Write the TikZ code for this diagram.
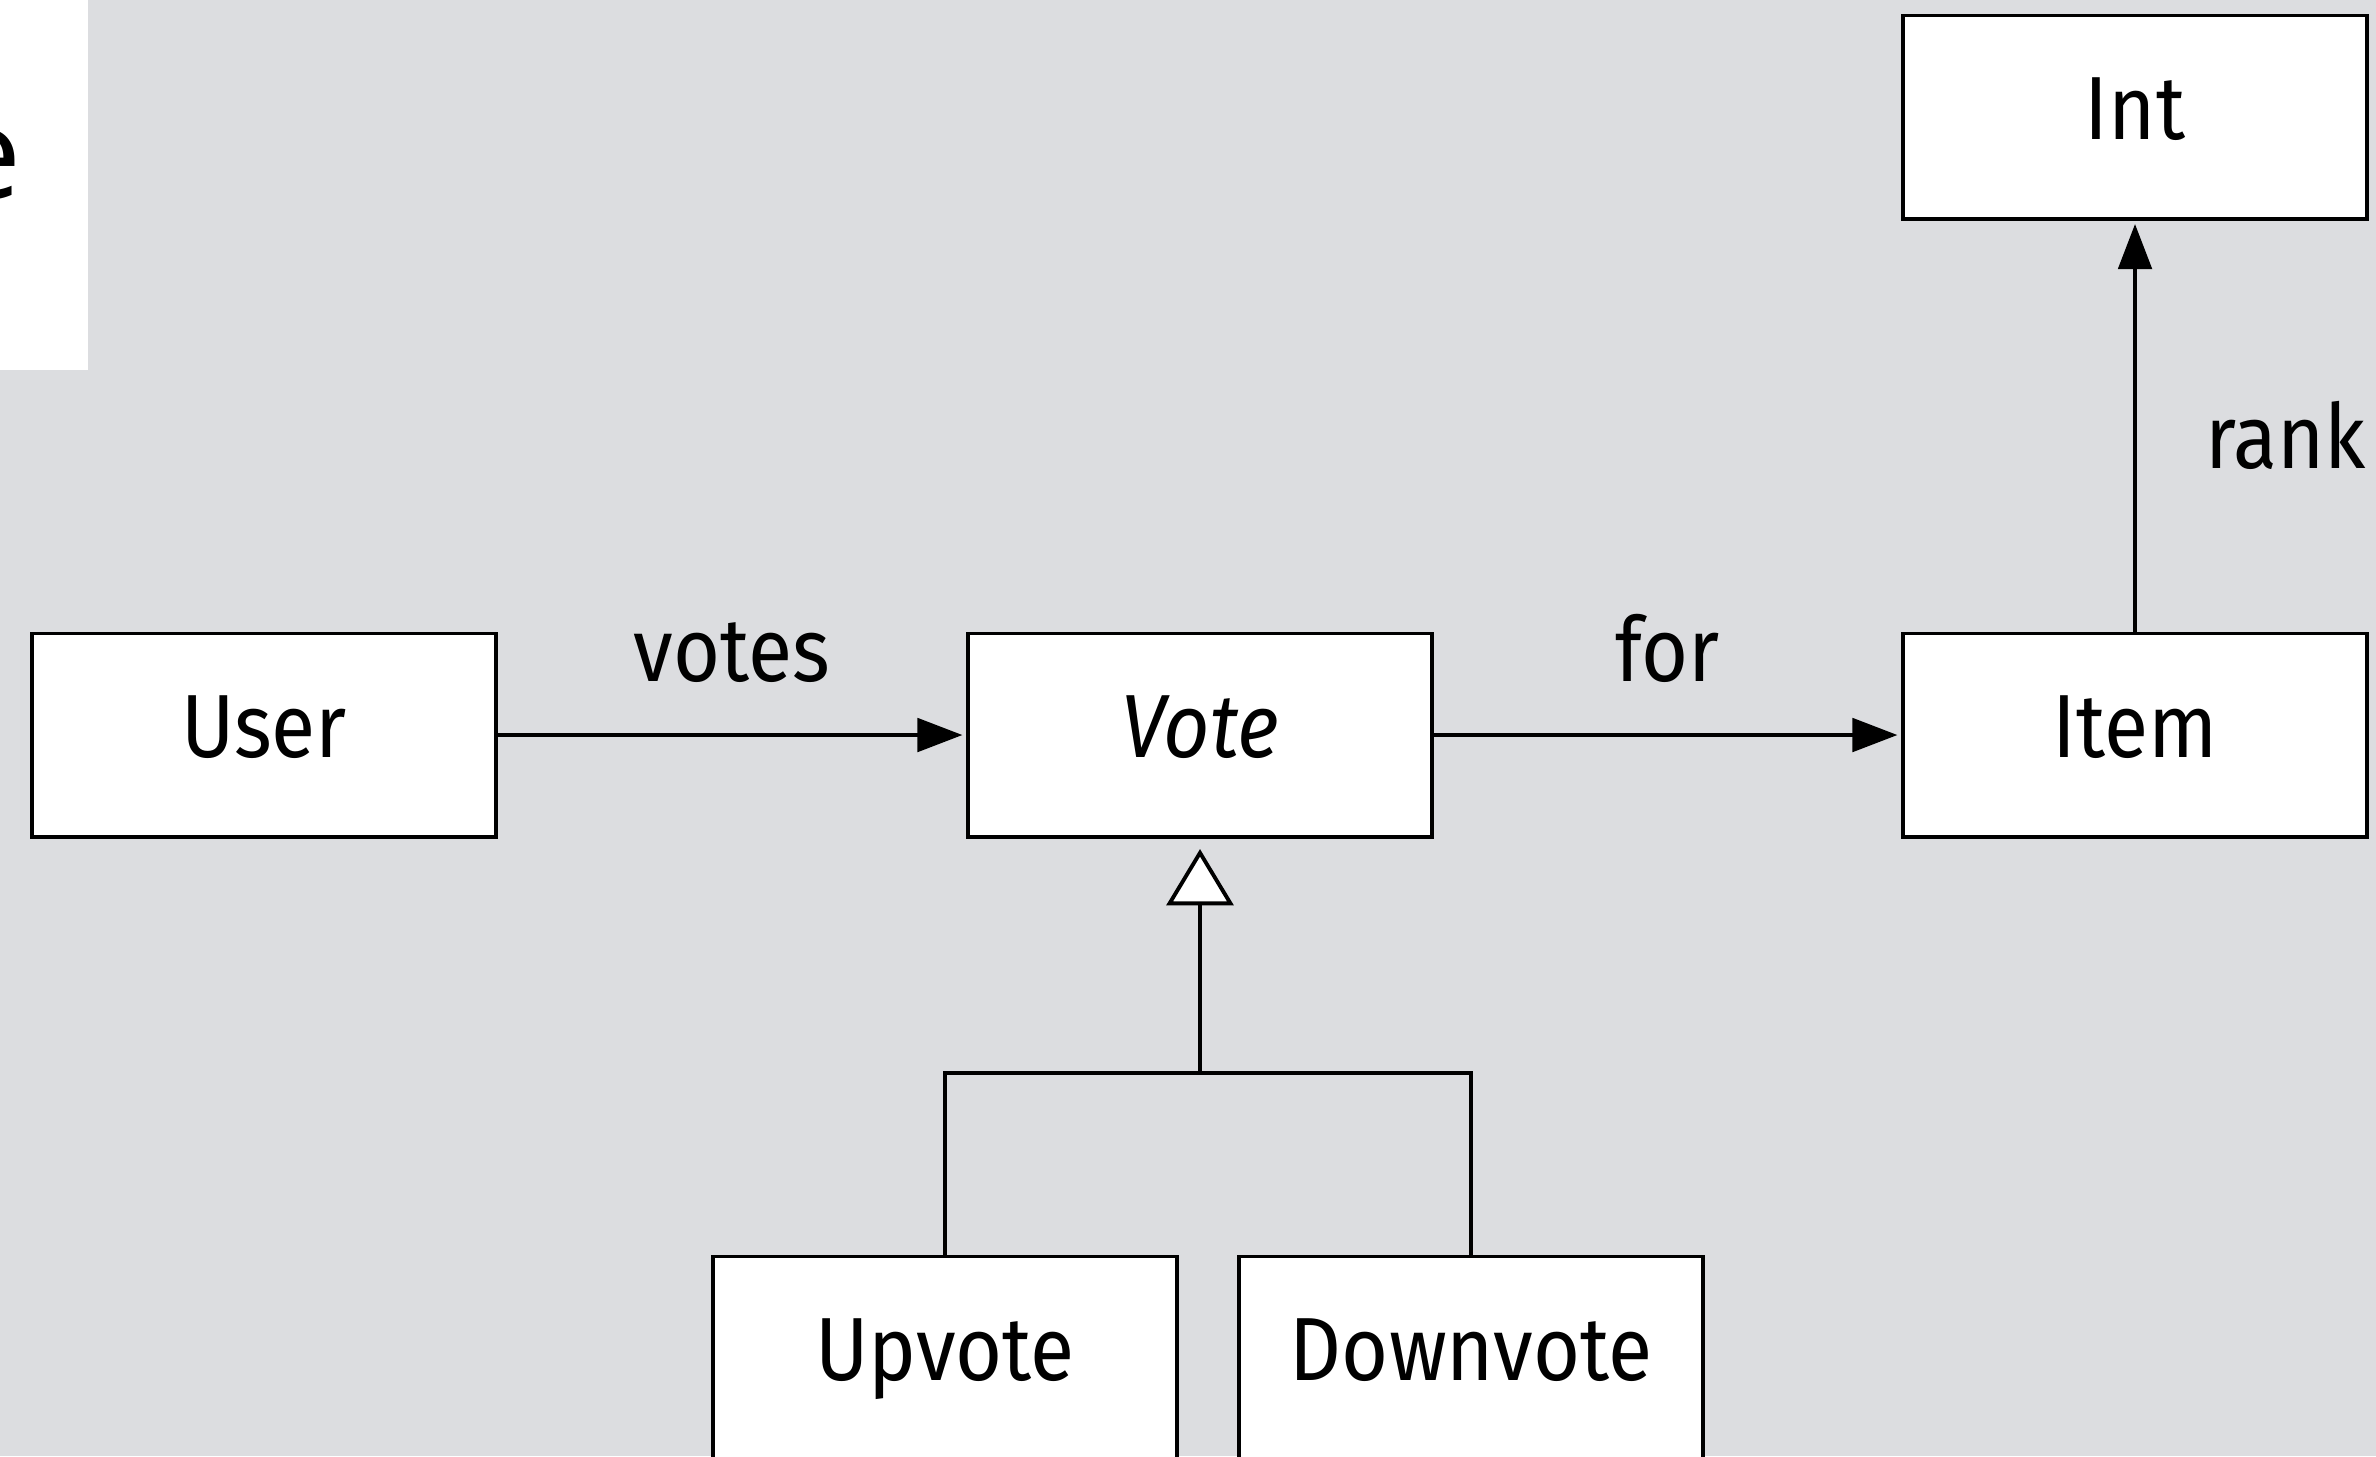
\documentclass[tikz,border=0pt]{standalone}
\usepackage{fontspec}
\setmainfont[FakeStretch=0.9]{Fira Sans}
\newfontfamily\efont{Open Sans}
\usetikzlibrary{arrows.meta}
\definecolor{bg}{RGB}{220,221,224}
\begin{document}
\begin{tikzpicture}[x=0.01cm,y=-0.01cm,
  cls/.style={draw, fill=white, line width=1.1pt, minimum width=4.64cm, minimum height=2.03cm,
    inner sep=0pt, font=\fontsize{25.5}{30}\selectfont, text height=13pt, text depth=0pt},
  assoc/.style={-{Triangle[length=12.8pt,width=9.5pt]}, line width=1.1pt, shorten >=1pt},
  inherit/.style={-{Triangle[open,length=16pt,width=19pt,fill=white]}, line width=1.1pt, shorten >=3pt},
  lbl/.style={font=\fontsize{25.5}{30}\selectfont, inner sep=0pt}]
\useasboundingbox (0,0) rectangle (2376,1456);
\clip (0,0) rectangle (2376,1456);
\fill[bg] (0,0) rectangle (2376,1456);
\fill[white] (0,0) rectangle (88,370);
\node[anchor=base east, inner sep=0pt, font=\efont\fontsize{36}{40}\selectfont] (etext) at (22,198) {e};

\node[cls] (User) at (264,735) {User};
\node[cls] (Vote) at (1200,735) {\itshape Vote};
\node[cls] (Item) at (2135,735) {Item};
\node[cls] (Int) at (2135,117) {Int};
\node[cls] (Upvote) at (945,1358) {Upvote};
\node[cls] (Downvote) at (1471,1358) {Downvote};
\coordinate (bar) at (1200,1073);

\draw[assoc] (User) -- node[lbl, midway, anchor=base, yshift=0.53cm] (lvotes) {votes} (Vote);
\draw[assoc] (Vote) -- node[lbl, midway, anchor=base, yshift=0.53cm] (lfor) {for} (Item);
\draw[assoc] (Item) -- node[lbl, midway, anchor=base west, xshift=0.68cm, yshift=-0.42cm] (lrank) {rank} (Int);

\draw[line width=1.1pt] (Upvote.north) |- (Downvote.north |- bar) -- (Downvote.north);
\draw[inherit] (bar) -- (Vote.south);
\end{tikzpicture}
\end{document}
